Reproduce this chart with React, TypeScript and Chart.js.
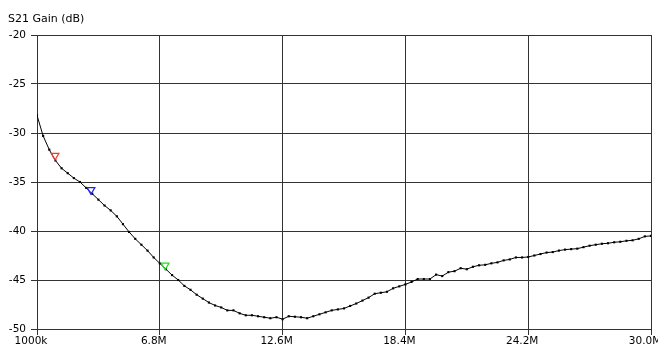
import React, { useEffect, useRef } from "react";
import { Chart, registerables } from "chart.js";

Chart.register(...registerables);

// Frequency sweep: 101 points from 1.0 MHz to 30.0 MHz
const startMHz = 1.0;
const stepMHz = 0.29;

// S21 gain (dB)
const gainDb: number[] = [
  -28.2, -30.3, -31.7, -32.8, -33.6, -34.1, -34.6, -35.0, -35.6, -36.2,
  -36.8, -37.4, -37.9, -38.5, -39.3, -40.1, -40.8, -41.4, -42.0, -42.7,
  -43.3, -43.9, -44.5, -45.0, -45.6, -46.0, -46.5, -46.9, -47.3, -47.6,
  -47.8, -48.1, -48.1, -48.4, -48.6, -48.6, -48.7, -48.8, -48.9, -48.8,
  -49.0, -48.7, -48.75, -48.8, -48.9, -48.7, -48.5, -48.3, -48.1, -48.0,
  -47.9, -47.65, -47.4, -47.1, -46.8, -46.4, -46.3, -46.2, -45.85, -45.65,
  -45.45, -45.2, -44.9, -44.9, -44.9, -44.45, -44.6, -44.2, -44.1, -43.8,
  -43.9, -43.65, -43.5, -43.45, -43.3, -43.2, -43.0, -42.9, -42.7, -42.7,
  -42.65, -42.5, -42.35, -42.2, -42.15, -42.0, -41.9, -41.85, -41.8, -41.65,
  -41.5, -41.4, -41.3, -41.25, -41.15, -41.1, -41.0, -40.95, -40.8, -40.55,
  -40.5,
];

const frequencies: number[] = gainDb.map((_, i) => +(startMHz + i * stepMHz).toFixed(2));

// Markers (frequency MHz, gain dB, colour)
const markerFreqs: number[] = [1.85, 3.55, 7.05];
const markerGains: number[] = [-32.3, -35.8, -43.5];
const markerColors: string[] = ["#ff3030", "#2020ff", "#20e020"];

// Axis ticks
const xTickValues: number[] = [1.0, 6.8, 12.6, 18.4, 24.2, 30.0];
const xTickLabels: string[] = ["1000k", "6.8M", "12.6M", "18.4M", "24.2M", "30.0M"];
const yMin = -50;
const yMax = -20;
const yStep = 5;

const titleText = "S21 Gain (dB)";
const FONT = "'DejaVu Sans', Verdana, sans-serif";
const GRID = "#333333";

const titlePlugin = {
  id: "cornerTitle",
  afterDraw(chart: any) {
    const ctx = chart.ctx;
    ctx.save();
    ctx.font = `11px ${FONT}`;
    ctx.fillStyle = "#000";
    ctx.textAlign = "left";
    ctx.textBaseline = "alphabetic";
    ctx.fillText(titleText, 8, 22);
    ctx.restore();
  },
};

const bgPlugin = {
  id: "whiteBg",
  beforeDraw(chart: any) {
    const ctx = chart.ctx;
    ctx.save();
    ctx.fillStyle = "#fff";
    ctx.fillRect(0, 0, chart.width, chart.height);
    ctx.restore();
  },
};

export default function App() {
  const ref = useRef<HTMLCanvasElement | null>(null);

  useEffect(() => {
    if (!ref.current) return;
    const chart = new Chart(ref.current, {
      type: "line",
      data: {
        datasets: [
          {
            label: "S21",
            data: frequencies.map((f, i) => ({ x: f, y: gainDb[i] })),
            borderColor: "#000",
            borderWidth: 1,
            pointRadius: 1.5,
            pointStyle: "rect",
            pointBackgroundColor: "#000",
            pointBorderWidth: 0,
            tension: 0,
            order: 2,
          },
          {
            label: "Markers",
            data: markerFreqs.map((f, i) => ({ x: f, y: markerGains[i] })),
            showLine: false,
            pointStyle: "triangle",
            rotation: 180,
            pointRadius: 4.5,
            pointBorderWidth: 1.2,
            pointBorderColor: markerColors,
            pointBackgroundColor: "rgba(0,0,0,0)",
            order: 1,
          },
        ],
      },
      options: {
        animation: false,
        responsive: false,
        events: [],
        layout: { padding: { top: 35, right: 7, left: 0, bottom: 0 } },
        plugins: {
          legend: { display: false },
          tooltip: { enabled: false },
          title: { display: false },
        },
        scales: {
          x: {
            type: "linear",
            min: 1,
            max: 30,
            border: { display: false },
            grid: { color: GRID, lineWidth: 1, tickLength: 6, drawTicks: true },
            afterBuildTicks: (scale: any) => {
              scale.ticks = xTickValues.map((v) => ({ value: v }));
            },
            afterFit: (scale: any) => {
              scale.height = 19;
              scale.paddingLeft = 0;
              scale.paddingRight = 0;
            },
            ticks: {
              autoSkip: false,
              maxRotation: 0,
              padding: 0,
              labelOffset: -6,
              color: "#000",
              font: { family: FONT, size: 10.5 },
              callback: (_v: any, i: number) => xTickLabels[i],
            },
          },
          y: {
            type: "linear",
            min: yMin,
            max: yMax,
            border: { display: false },
            grid: { color: GRID, lineWidth: 1, tickLength: 6, drawTicks: true },
            afterFit: (scale: any) => {
              scale.width = 37;
            },
            ticks: {
              stepSize: yStep,
              padding: 5,
              color: "#000",
              font: { family: FONT, size: 10.5 },
            },
          },
        },
      },
      plugins: [bgPlugin, titlePlugin],
    });
    return () => chart.destroy();
  }, []);

  return (
    <div style={{ position: "absolute", left: 0, top: 0, width: 658, height: 348 }}>
      <canvas ref={ref} width={658} height={348} />
    </div>
  );
}
